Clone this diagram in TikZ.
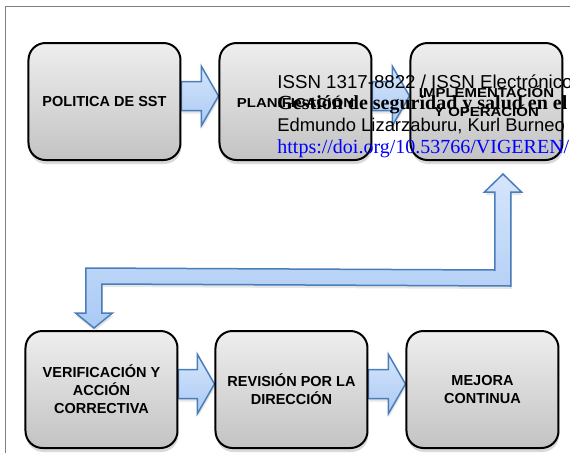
\documentclass[tikz,border=0pt]{standalone}
\usepackage{fontspec}
\setmainfont{Liberation Sans}
\newfontfamily\widesans[FakeStretch=1.15]{Liberation Sans}
\newfontfamily\headserif{Liberation Serif}
\usetikzlibrary{calc,shadows,backgrounds}

\definecolor{boxtop}{HTML}{EEEEEE}
\definecolor{boxbottom}{HTML}{C3C3C3}
\definecolor{arrowtop}{HTML}{D6E5FB}
\definecolor{arrowbottom}{HTML}{AACAF4}
\definecolor{arrowline}{HTML}{4A7EBB}
\definecolor{framegray}{HTML}{7F7F7F}

\tikzset{
	stagebox/.style={rectangle, draw=black, line width=1pt, rounded corners=8.5pt,
		top color=boxtop, bottom color=boxbottom, minimum width=76pt, minimum height=58.5pt,
		align=center, font=\bfseries\fontsize{7.25}{9}\selectfont,
		drop shadow={shadow xshift=0.4pt, shadow yshift=-2pt, opacity=0.3}},
	widebox/.style={stagebox, font=\widesans\bfseries\fontsize{6.5}{9.5}\selectfont},
	blockarrow/.style={draw=arrowline, line width=0.75pt, line join=miter,
		top color=arrowtop, bottom color=arrowbottom,
		drop shadow={shadow xshift=0.4pt, shadow yshift=-1.5pt, opacity=0.2}},
	headline/.style={anchor=base west, inner sep=0pt},
}

% straight block arrow from one box to the next
\newcommand{\stagearrow}[2]{%
	\draw[blockarrow] ($(#1.east)+(0,-20)$) -- ($(#2.west)+(-17,-20)$)
		-- ($(#2.west)+(-17,-35)$) -- ($(#2.west)+(0,-5.5)$)
		-- ($(#2.west)+(-17,24)$) -- ($(#2.west)+(-17,9)$)
		-- ($(#1.east)+(0,9)$) -- cycle;}

\begin{document}
\begin{tikzpicture}[x=0.5pt, y=-0.5pt]
		
		\clip (0,0) rectangle (570,452);
		
		%Frame
		\draw[framegray, line width=0.5pt] (6,470) -- (6,6) -- (590,6);
		
		%Upper boxes
		\node (politica) at (104.5,101.5) [stagebox]{POLITICA DE SST};
		\node (planificacion) at (295.5,101.5) [widebox]{PLANIFICACIÓN};
		\node (implementacion) at (486.5,101.5) [widebox]{IMPLEMENTACIÓN\\Y OPERACIÓN};
		
		%Lower boxes
		\node (verificacion) at (101.5,389.5) [stagebox]{VERIFICACIÓN Y\\ACCIÓN\\CORRECTIVA};
		\node (revision) at (291.5,389.5) [stagebox]{REVISIÓN POR LA\\DIRECCIÓN};
		\node (mejora) at (482.5,389.5) [stagebox]{MEJORA\\CONTINUA};
		
		%Arrows
		\begin{scope}[on background layer]
		\stagearrow{politica}{planificacion}
		\stagearrow{planificacion}{implementacion}
		\stagearrow{verificacion}{revision}
		\stagearrow{revision}{mejora}
		\end{scope}
		
		%Return arrow
		\coordinate (uptip) at ($(implementacion.south)+(16.5,13)$);
		\coordinate (downtip) at ($(verificacion.north)+(-7.5,-2)$);
		\draw[blockarrow] (uptip) -- ($(uptip)+(18.5,18)$) -- ($(uptip)+(8,18)$)
			-- ($(uptip)+(8,112)$) -- ($(downtip)+(8,-44)$) -- ($(downtip)+(8,-15)$)
			-- ($(downtip)+(18.5,-15)$) -- (downtip) -- ($(downtip)+(-18.5,-15)$)
			-- ($(downtip)+(-8,-15)$) -- ($(downtip)+(-8,-60)$) -- ($(uptip)+(-8,96)$)
			-- ($(uptip)+(-8,18)$) -- ($(uptip)+(-18.5,18)$) -- cycle;
		
		%Header text
		\node (issn) at (277,88.3) [headline, font=\fontsize{9.35}{11}\selectfont]{ISSN 1317-8822 / ISSN Electrónico};
		\node (titulo) at (277,109) [headline, font=\headserif\bfseries\fontsize{10}{12}\selectfont]{Gestión de seguridad y salud en el};
		\node (autores) at (277,131.7) [headline, font=\fontsize{9.2}{11}\selectfont]{Edmundo Lizarzaburu, Kurl Burneo};
		\node (doi) at (277,153.5) [headline, text=blue, font=\headserif\fontsize{10}{12}\selectfont]{https://doi.org/10.53766/VIGEREN/};
		
\end{tikzpicture}
\end{document}
